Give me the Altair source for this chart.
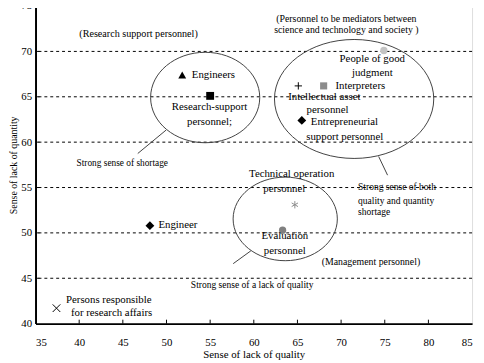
import altair as alt
import pandas as pd

# ---- data values ----
pt_names = ["Engineers", "Research-support personnel", "People of good judgment",
            "Interpreters", "Intellectual asset personnel", "Entrepreneurial support personnel",
            "Technical operation personnel", "Evaluation personnel", "Engineer",
            "Persons responsible for research affairs"]
pt_quality = [51.8, 55.0, 74.9, 68.0, 65.1, 65.5, 64.7, 63.3, 48.1, 37.4]
pt_quantity = [67.4, 65.1, 70.1, 66.2, 66.2, 62.4, 53.1, 50.3, 50.8, 41.7]

grid_values = [45, 50, 55, 60, 65, 70]
x_ticks = [35, 40, 45, 50, 55, 60, 65, 70, 75, 80, 85]
y_ticks = [40, 45, 50, 55, 60, 65, 70, 75]

# ---- marker styles (per series) ----
CROSS = "M -1 0 L 1 0 M 0 -1 L 0 1"
XMARK = "M -1 -1 L 1 1 M -1 1 L 1 -1"
ASTER = "M 0 -1 L 0 1 M -0.87 -0.5 L 0.87 0.5 M -0.87 0.5 L 0.87 -0.5"
style = {
    "Engineers": ("triangle-up", "#000000", 64, True),
    "Research-support personnel": ("square", "#000000", 64, True),
    "People of good judgment": ("circle", "#c4c4c4", 55, True),
    "Interpreters": ("square", "#8c8c8c", 52, True),
    "Intellectual asset personnel": (CROSS, "#000000", 55, False),
    "Entrepreneurial support personnel": ("diamond", "#000000", 80, True),
    "Technical operation personnel": (ASTER, "#8c8c8c", 55, False),
    "Evaluation personnel": ("circle", "#808080", 55, True),
    "Engineer": ("diamond", "#000000", 80, True),
    "Persons responsible for research affairs": (XMARK, "#000000", 60, False),
}

pts = pd.DataFrame({"name": pt_names, "q": pt_quality, "n": pt_quantity})
pts["shape"] = [style[k][0] for k in pt_names]
pts["color"] = [style[k][1] for k in pt_names]
pts["size"] = [style[k][2] for k in pt_names]
pts["filled"] = [style[k][3] for k in pt_names]

# ---- annotation texts (text, x, y, align, font size) ----
ann = [
    ("(Research support personnel)", 46.8, 71.86, "center", 10.3),
    ("(Personnel to be mediators between", 70.6, 73.6, "center", 10),
    ("science and technology and society )", 70.6, 72.4, "center", 10),
    ("Engineers", 52.9, 67.4, "left", 11),
    ("Research-support", 54.93, 63.84, "center", 11),
    ("personnel;", 54.93, 62.22, "center", 11),
    ("Strong sense of shortage", 39.7, 57.67, "left", 9.5),
    ("People of good", 73.57, 69.15, "center", 11),
    ("judgment", 73.57, 67.63, "center", 11),
    ("Interpreters", 69.35, 66.22, "left", 11),
    ("Intellectual asset", 63.94, 64.92, "left", 11),
    ("personnel", 68.45, 63.52, "center", 11),
    ("Entrepreneurial", 66.53, 62.22, "left", 11),
    ("support personnel", 70.42, 60.59, "center", 11),
    ("Technical operation", 64.34, 56.47, "center", 11),
    ("personnel", 63.49, 54.85, "center", 11),
    ("Evaluation", 63.55, 49.65, "center", 11),
    ("personnel", 63.55, 48.02, "center", 11),
    ("Strong sense of both", 71.94, 55.07, "left", 9.7),
    ("quality and quantity", 71.94, 53.55, "left", 9.7),
    ("shortage", 71.94, 52.25, "left", 9.7),
    ("(Management personnel)", 67.77, 46.83, "left", 10),
    ("Strong sense of a lack of quality", 52.79, 44.23, "left", 9.7),
    ("Engineer", 49.08, 50.84, "left", 11),
    ("Persons responsible", 38.49, 42.6, "left", 11),
    ("for research affairs", 39.05, 41.2, "left", 11),
]
ann_df = pd.DataFrame(ann, columns=["t", "x", "y", "align", "fs"])

# ---- ellipses (centre in data units, radii in px) ----
ell_cx = [54.43, 71.49, 63.60]
ell_cy = [64.92, 64.76, 51.54]
ell_rx = [55.5, 81, 53]
ell_ry = [46, 60.5, 42.5]


def ellipse_path(k):
    c = 0.5523
    return (f"M -1 0 C -1 {-c*k:.4f} {-c} {-k:.4f} 0 {-k:.4f} C {c} {-k:.4f} 1 {-c*k:.4f} 1 0 "
            f"C 1 {c*k:.4f} {c} {k:.4f} 0 {k:.4f} C {-c} {k:.4f} -1 {c*k:.4f} -1 0 Z")


ell_df = pd.DataFrame({
    "x": ell_cx, "y": ell_cy,
    "shape": [ellipse_path(ry / rx) for rx, ry in zip(ell_rx, ell_ry)],
    "size": [(2 * rx) ** 2 for rx in ell_rx],
})

# pointer lines
ptr_df = pd.DataFrame({
    "x": [49.98, 74.30, 59.66], "y": [61.35, 58.42, 48.02],
    "x2": [46.71, 75.32, 57.64], "y2": [58.75, 56.36, 46.61],
})

FONT = "Times New Roman, Liberation Serif, DejaVu Serif, serif"
W, H = 444, 323

xs = alt.Scale(domain=[35, 85], nice=False, zero=False)
ys = alt.Scale(domain=[40, 75], nice=False, zero=False)

base_x = alt.X("q:Q", scale=xs, title="Sense of lack of quality",
               axis=alt.Axis(values=x_ticks, grid=False, tickSize=0, labelPadding=13,
                             domainColor="#000000", domainWidth=2, titlePadding=1,
                             labelFontSize=11, titleFontSize=11, labelFont=FONT, titleFont=FONT,
                             labelColor="#000000", titleColor="#000000", titleFontWeight="normal"))
base_y = alt.Y("n:Q", scale=ys, title="Sense of lack of quantity",
               axis=alt.Axis(values=y_ticks, grid=False, tickSize=0, labelPadding=4,
                             domainColor="#000000", domainWidth=2,
                             titleX=-22, titleY=H / 2, titleAngle=270, titleAlign="center",
                             titleBaseline="middle",
                             labelFontSize=11, titleFontSize=10, labelFont=FONT, titleFont=FONT,
                             labelColor="#000000", titleColor="#000000", titleFontWeight="normal"))

grid = alt.Chart(pd.DataFrame({"g": grid_values})).mark_rule(
    color="#000000", strokeWidth=1, strokeDash=[3, 3]).encode(y=alt.Y("g:Q", scale=ys))

xt = alt.Chart(pd.DataFrame({"v": x_ticks[1:-1]})).mark_rule(color="#000000", strokeWidth=1).encode(
    x=alt.X("v:Q", scale=xs), y=alt.value(H - 4), y2=alt.value(H))
yt = alt.Chart(pd.DataFrame({"v": y_ticks[1:-1]})).mark_rule(color="#000000", strokeWidth=1).encode(
    y=alt.Y("v:Q", scale=ys), x=alt.value(0), x2=alt.value(4))

ellipses = alt.Chart(ell_df).mark_point(filled=False, color="#404040", strokeWidth=1, opacity=1).encode(
    x=alt.X("x:Q", scale=xs), y=alt.Y("y:Q", scale=ys),
    shape=alt.Shape("shape:N", scale=None), size=alt.Size("size:Q", scale=None))

pointers = alt.Chart(ptr_df).mark_rule(color="#404040", strokeWidth=1).encode(
    x=alt.X("x:Q", scale=xs), y=alt.Y("y:Q", scale=ys), x2="x2:Q", y2="y2:Q")

filled_pts = alt.Chart(pts[pts["filled"]]).mark_point(filled=True, opacity=1, strokeWidth=0).encode(
    x=base_x, y=base_y,
    shape=alt.Shape("shape:N", scale=None), color=alt.Color("color:N", scale=None),
    size=alt.Size("size:Q", scale=None))
stroked_pts = alt.Chart(pts[~pts["filled"]]).mark_point(filled=False, opacity=1, strokeWidth=1).encode(
    x=alt.X("q:Q", scale=xs), y=alt.Y("n:Q", scale=ys),
    shape=alt.Shape("shape:N", scale=None), color=alt.Color("color:N", scale=None),
    size=alt.Size("size:Q", scale=None))


def text_layer(al):
    return alt.Chart(ann_df[ann_df["align"] == al]).mark_text(
        font=FONT, color="#000000", baseline="middle", align=al).encode(
        x=alt.X("x:Q", scale=xs), y=alt.Y("y:Q", scale=ys), text="t:N",
        size=alt.Size("fs:Q", scale=None))


chart = alt.layer(grid, ellipses, pointers, xt, yt, filled_pts, stroked_pts,
                  text_layer("left"), text_layer("center")).properties(
    width=W, height=H,
    autosize=alt.AutoSizeParams(type="none"),
    padding={"left": 28, "top": -5, "right": 4, "bottom": 35},
).configure_view(stroke="#8a8a8a", strokeWidth=2).configure(background="white")

chart.save("out.html", embed_options={"renderer": "svg", "actions": False})
